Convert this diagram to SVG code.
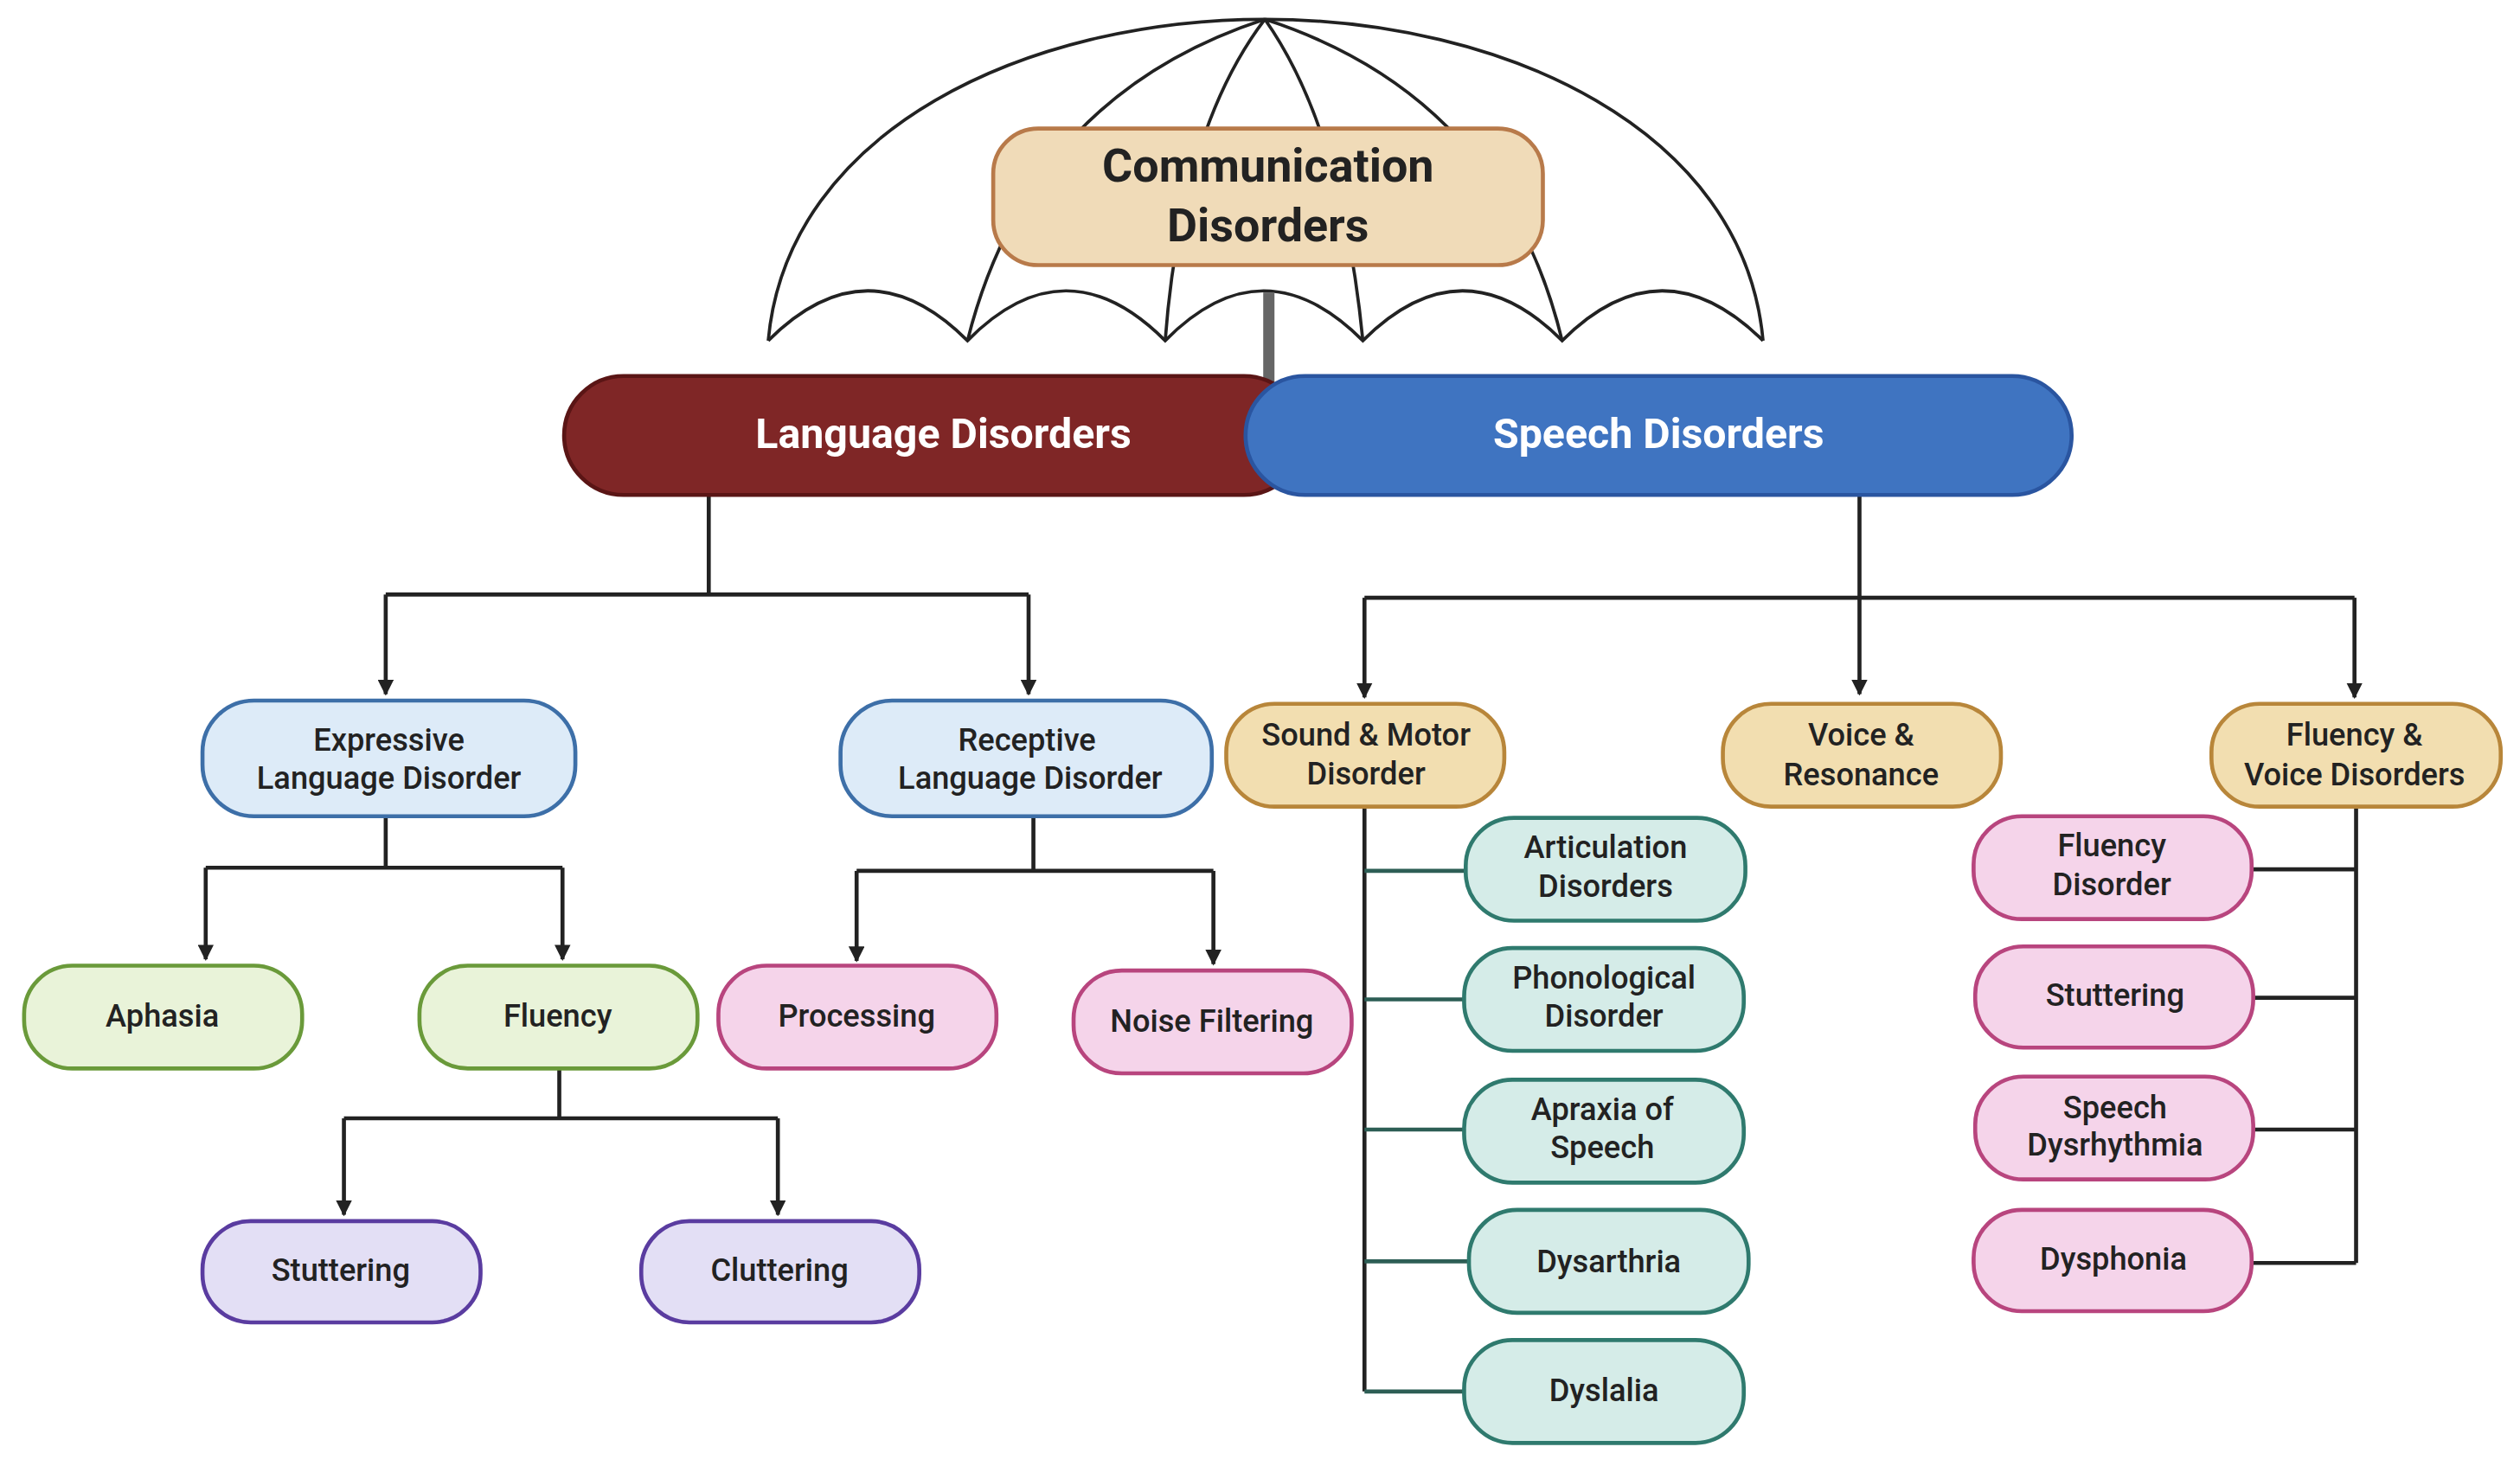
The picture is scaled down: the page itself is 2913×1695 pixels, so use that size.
<svg xmlns="http://www.w3.org/2000/svg" width="2913" height="1695" viewBox="0 0 2913 1695">
<defs>
<marker id="ah" viewBox="0 0 10 10" refX="9" refY="5" markerWidth="4" markerHeight="4" orient="auto"><path d="M0,0 L10,5 L0,10 z" fill="#222"/></marker>
<style>
text{font-family:Roboto,"Liberation Sans",sans-serif;text-anchor:middle;font-weight:500;fill:#222;font-size:19.5px}
.c{fill:none;stroke:#222;stroke-width:2.5}
.t{fill:none;stroke:#2d5e55;stroke-width:2.5}
.blue{fill:#ddebf8;stroke:#3d6fa8;stroke-width:2.5}
.green{fill:#e9f3d9;stroke:#6a9a3a;stroke-width:2.5}
.pink{fill:#f5d4ea;stroke:#b8457e;stroke-width:2.5}
.purple{fill:#e3dff5;stroke:#5a3ca0;stroke-width:2.5}
.tan{fill:#f2deb0;stroke:#b8863a;stroke-width:2.5}
.teal{fill:#d5ece8;stroke:#2f7a6e;stroke-width:2.5}
.um{fill:none;stroke:#222;stroke-width:2}
</style>
</defs>
<rect width="2913" height="1695" fill="#fff"/>
<g transform="scale(1.8578)">
<g id="umbrella">
<path class="um" d="M478,212 C490,80 640,12 787,12 C935,12 1085,80 1097,212"/>
<path class="um" d="M478,212 Q540,150 602,212 Q663,150 725,212 Q786,150 848,212 Q910,150 972,212 Q1034,150 1097,212"/>
<path class="um" d="M787,12 Q640,60 602,212 M787,12 Q735,80 725,212 M787,12 Q835,80 848,212 M787,12 Q935,60 972,212"/>
<rect x="786" y="182" width="7" height="56" fill="#666"/>
</g>
<g id="communication">
<rect x="618" y="80" width="342" height="85" rx="28" fill="#f0dbb8" stroke="#b87a4a" stroke-width="2.5"/>
<text x="789" y="113" style="font-size:29px;font-weight:700">Communication</text>
<text x="789" y="150" style="font-size:29px;font-weight:700">Disorders</text>
</g>
<g id="connectors">
<path class="c" d="M441,308 V370 M240,370 H640"/>
<path class="c" d="M240,370 V432" marker-end="url(#ah)"/>
<path class="c" d="M640,370 V432" marker-end="url(#ah)"/>
<path class="c" d="M240,508 V540 M128,540 H350"/>
<path class="c" d="M128,540 V597" marker-end="url(#ah)"/>
<path class="c" d="M350,540 V597" marker-end="url(#ah)"/>
<path class="c" d="M643,508 V542 M533,542 H755"/>
<path class="c" d="M533,542 V598" marker-end="url(#ah)"/>
<path class="c" d="M755,542 V600" marker-end="url(#ah)"/>
<path class="c" d="M348,665 V696 M214,696 H484"/>
<path class="c" d="M214,696 V756" marker-end="url(#ah)"/>
<path class="c" d="M484,696 V756" marker-end="url(#ah)"/>
<path class="c" d="M1157,308 V432" marker-end="url(#ah)"/>
<path class="c" d="M849,372 H1465"/>
<path class="c" d="M849,372 V434" marker-end="url(#ah)"/>
<path class="c" d="M1465,372 V434" marker-end="url(#ah)"/>
<path class="c" d="M849,502 V866"/>
<path class="t" d="M849,542 H912 M849,622 H912 M849,703 H912 M849,785 H914 M849,866 H912"/>
<path class="c" d="M1466,502 V786 M1401,541 H1466 M1402,621 H1466 M1402,703 H1466 M1400,786 H1466"/>
</g>
<g id="language"><rect x="351" y="234" width="460" height="74" rx="37" fill="#7f2626" stroke="#5a1515" stroke-width="2.5"/><text x="587" y="279" style="fill:#fff;font-size:26px;font-weight:700">Language Disorders</text></g>
<g id="speech"><rect x="775" y="234" width="514" height="74" rx="37" fill="#3f74c1" stroke="#2a55a0" stroke-width="2.5"/><text x="1032" y="279" style="fill:#fff;font-size:26px;font-weight:700">Speech Disorders</text></g>
<g id="expressive"><rect class="blue" x="126" y="436" width="232" height="72" rx="32"/><text x="242" y="467">Expressive</text><text x="242" y="491">Language Disorder</text></g>
<g id="receptive"><rect class="blue" x="523" y="436" width="231" height="72" rx="32"/><text x="639" y="467">Receptive</text><text x="641" y="491">Language Disorder</text></g>
<g id="aphasia"><rect class="green" x="15" y="601" width="173" height="64" rx="30"/><text x="101" y="639">Aphasia</text></g>
<g id="fluency"><rect class="green" x="261" y="601" width="173" height="64" rx="30"/><text x="347" y="639">Fluency</text></g>
<g id="processing"><rect class="pink" x="447" y="601" width="173" height="64" rx="30"/><text x="533" y="639">Processing</text></g>
<g id="noise"><rect class="pink" x="668" y="604" width="173" height="64" rx="30"/><text x="754" y="642">Noise Filtering</text></g>
<g id="stuttering1"><rect class="purple" x="126" y="760" width="173" height="63" rx="30"/><text x="212" y="797">Stuttering</text></g>
<g id="cluttering"><rect class="purple" x="399" y="760" width="173" height="63" rx="30"/><text x="485" y="797">Cluttering</text></g>
<g id="sound"><rect class="tan" x="763" y="438" width="173" height="64" rx="30"/><text x="850" y="464">Sound &amp; Motor</text><text x="850" y="488">Disorder</text></g>
<g id="voice"><rect class="tan" x="1072" y="438" width="173" height="64" rx="30"/><text x="1158" y="464">Voice &amp;</text><text x="1158" y="489">Resonance</text></g>
<g id="fluencyvoice"><rect class="tan" x="1376" y="438" width="180" height="64" rx="30"/><text x="1465" y="464">Fluency &amp;</text><text x="1465" y="489">Voice Disorders</text></g>
<g id="articulation"><rect class="teal" x="912" y="509" width="174" height="64" rx="30"/><text x="999" y="534">Articulation</text><text x="999" y="558">Disorders</text></g>
<g id="phonological"><rect class="teal" x="911" y="590" width="174" height="64" rx="30"/><text x="998" y="615">Phonological</text><text x="998" y="639">Disorder</text></g>
<g id="apraxia"><rect class="teal" x="911" y="672" width="174" height="64" rx="30"/><text x="997" y="697">Apraxia of</text><text x="997" y="721">Speech</text></g>
<g id="dysarthria"><rect class="teal" x="914" y="753" width="174" height="64" rx="30"/><text x="1001" y="792">Dysarthria</text></g>
<g id="dyslalia"><rect class="teal" x="911" y="834" width="174" height="64" rx="30"/><text x="998" y="872">Dyslalia</text></g>
<g id="fluencydisorder"><rect class="pink" x="1228" y="508" width="173" height="64" rx="30"/><text x="1314" y="533">Fluency</text><text x="1314" y="557">Disorder</text></g>
<g id="stuttering2"><rect class="pink" x="1229" y="589" width="173" height="63" rx="30"/><text x="1316" y="626">Stuttering</text></g>
<g id="dysrhythmia"><rect class="pink" x="1229" y="670" width="173" height="64" rx="30"/><text x="1316" y="696">Speech</text><text x="1316" y="719">Dysrhythmia</text></g>
<g id="dysphonia"><rect class="pink" x="1228" y="753" width="173" height="63" rx="30"/><text x="1315" y="790">Dysphonia</text></g>
</g>
</svg>
